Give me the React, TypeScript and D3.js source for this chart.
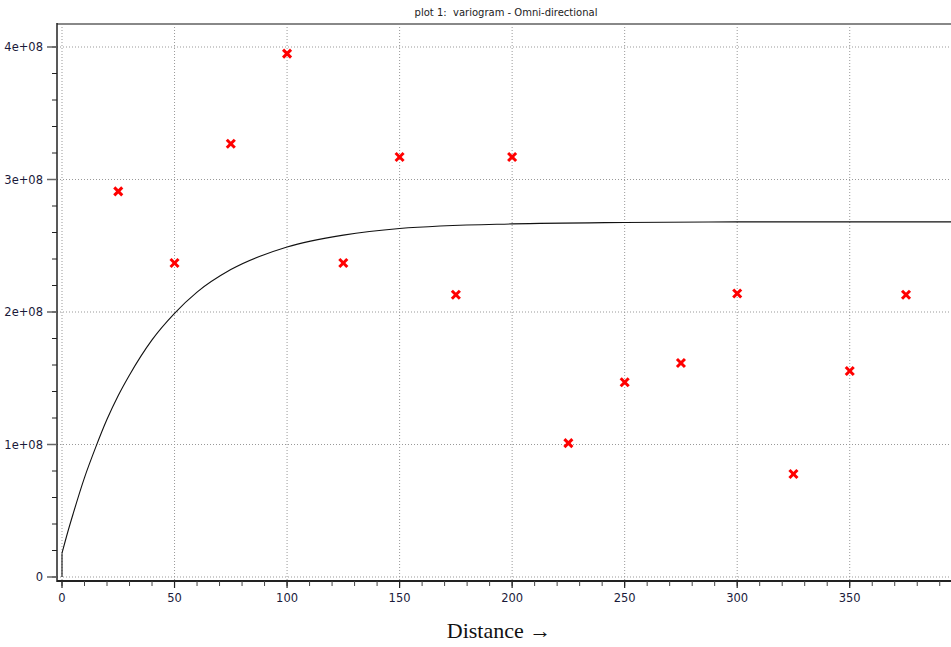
import React from "react";
import * as d3 from "d3";

const lagDistances = [25, 50, 75, 100, 125, 150, 175, 200, 225, 250, 275, 300, 325, 350, 375];
const semivariance = [2.91e8, 2.37e8, 3.27e8, 3.95e8, 2.37e8, 3.17e8, 2.13e8, 3.17e8, 1.01e8, 1.47e8, 1.615e8, 2.14e8, 0.777e8, 1.555e8, 2.13e8];

const nuggetValue = 0.18e8;
const modelDistances = [0, 2.5, 5, 10, 15, 20, 25, 30, 40, 50, 60, 75, 100, 125, 150, 200, 250, 300, 395];
const modelValues = [0.18e8, 0.336e8, 0.48e8, 0.75e8, 0.98e8, 1.19e8, 1.37e8, 1.525e8, 1.79e8, 1.99e8, 2.15e8, 2.32e8, 2.49e8, 2.58e8, 2.63e8, 2.665e8, 2.676e8, 2.68e8, 2.68e8];

const xMajorTicks = [0, 50, 100, 150, 200, 250, 300, 350];
const xTickLabels = ["0", "50", "100", "150", "200", "250", "300", "350"];
const yMajorTicks = [0, 1e8, 2e8, 3e8, 4e8];
const yTickLabels = ["0", "1e+08", "2e+08", "3e+08", "4e+08"];

const titleText = "plot 1:  variogram - Omni-directional";
const xAxisTitle = "Distance \u2192";

export default function App() {
  const W = 951, H = 647;
  const left = 57, top = 24, axisY = 581;
  const x = d3.scaleLinear().domain([0, 395]).range([62, 951]);
  const y = d3.scaleLinear().domain([0, 4e8]).range([577, 47]);

  const xMinor = d3.range(0, 395, 10);
  const yMinor = d3.range(0, 4.1e8, 2e7);

  const line = d3
    .line<number>()
    .x((_, i) => x(modelDistances[i]))
    .y((d) => y(d))
    .curve(d3.curveMonotoneX);

  const font = "Tahoma, 'DejaVu Sans', 'Liberation Sans', sans-serif";

  return (
    <svg width={W} height={H} style={{ position: "absolute", left: 0, top: 0, background: "#fff" }}>
      <rect x={0} y={0} width={W} height={H} fill="#fff" />
      <text x={506} y={16} textAnchor="middle" fontFamily={font} fontSize={10} fill="#222" style={{ whiteSpace: "pre" }}>
        {titleText}
      </text>
      {xMajorTicks.map((t) => (
        <line key={"gx" + t} x1={x(t)} x2={x(t)} y1={top} y2={axisY} stroke="#999" strokeWidth={1} strokeDasharray="1,2" />
      ))}
      {yMajorTicks.map((t) => (
        <line key={"gy" + t} x1={left} x2={W} y1={y(t)} y2={y(t)} stroke="#999" strokeWidth={1} strokeDasharray="1,2" />
      ))}
      <line x1={left} x2={W} y1={top} y2={top} stroke="#888" strokeWidth={2} />
      <line x1={left} x2={left} y1={top - 1} y2={axisY + 1} stroke="#222" strokeWidth={1.5} />
      {yMinor.map((t) => (
        <line key={"ym" + t} x1={52} x2={left} y1={y(t)} y2={y(t)} stroke="#222" strokeWidth={1} />
      ))}
      {yMajorTicks.map((t, i) => (
        <g key={"yt" + t}>
          <line x1={47} x2={left} y1={y(t)} y2={y(t)} stroke="#666" strokeWidth={1.5} />
          <text x={43} y={y(t)} dy="0.35em" textAnchor="end" fontFamily={font} fontSize={11.5} fill="#1a1a3a">
            {yTickLabels[i]}
          </text>
        </g>
      ))}
      <line x1={left} x2={W} y1={axisY} y2={axisY} stroke="#222" strokeWidth={2} />
      {xMinor.map((t) => (
        <line key={"xm" + t} x1={x(t)} x2={x(t)} y1={axisY} y2={axisY + 5} stroke="#444" strokeWidth={1} />
      ))}
      {xMajorTicks.map((t, i) => (
        <g key={"xt" + t}>
          <line x1={x(t)} x2={x(t)} y1={axisY} y2={axisY + 7} stroke="#222" strokeWidth={1.2} />
          <text x={x(t)} y={598} dy="0.35em" textAnchor="middle" fontFamily={font} fontSize={11.5} fill="#1a1a3a">
            {xTickLabels[i]}
          </text>
        </g>
      ))}
      <line x1={x(0)} x2={x(0)} y1={y(0)} y2={y(nuggetValue)} stroke="#111" strokeWidth={1.1} />
      <path d={line(modelValues) || ""} fill="none" stroke="#111" strokeWidth={1.1} />
      {lagDistances.map((d, i) => {
        const cx = x(d), cy = y(semivariance[i]);
        const s = 4;
        return (
          <g key={"p" + d} stroke="#ff0000" strokeWidth={3}>
            <line x1={cx - s} y1={cy - s} x2={cx + s} y2={cy + s} />
            <line x1={cx - s} y1={cy + s} x2={cx + s} y2={cy - s} />
          </g>
        );
      })}
      <text x={499} y={638} textAnchor="middle" fontFamily="'Liberation Serif', 'Times New Roman', serif" fontSize={22} fill="#111">
        {xAxisTitle}
      </text>
    </svg>
  );
}
